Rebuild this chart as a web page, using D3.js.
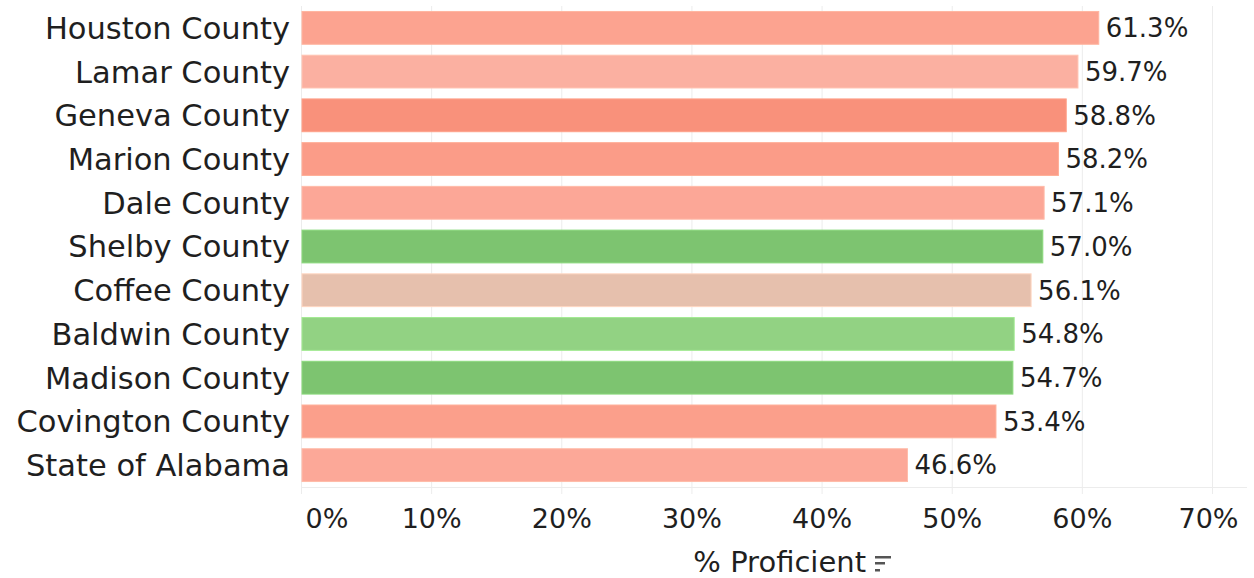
<!DOCTYPE html>
<html>
<head>
<meta charset="utf-8">
<script src="https://cdn.jsdelivr.net/npm/d3@7"></script>
<style>
  body { margin: 0; background: #fff; }
  text { font-family: "DejaVu Sans", sans-serif; fill: #1f1f1f; }
</style>
</head>
<body>
<div id="chart"></div>
<script>
// data
var counties = ["Houston County", "Lamar County", "Geneva County", "Marion County", "Dale County",
  "Shelby County", "Coffee County", "Baldwin County", "Madison County", "Covington County", "State of Alabama"];
var proficient = [61.3, 59.7, 58.8, 58.2, 57.1, 57.0, 56.1, 54.8, 54.7, 53.4, 46.6];
var barColors = ["#fca390", "#fbb0a1", "#f9917b", "#fb9c88", "#fca797", "#7dc470",
  "#e6c0ad", "#92d283", "#7dc470", "#fb9f8b", "#fca898"];
var xTicks = [0, 10, 20, 30, 40, 50, 60, 70];
var axisTitle = "% Proficient";

var width = 1254, height = 578;

var rows = counties.map(function(c, i){
  return {name: c, value: proficient[i], color: barColors[i]};
});

var svg = d3.select("#chart").append("svg")
  .attr("width", width).attr("height", height);

var x = d3.scaleLinear().domain([0, 70]).range([301, 1212]);
var y = d3.scaleBand().domain(counties).range([6, 487])
  .paddingInner(0.25).paddingOuter(0.125);

// grid
svg.append("g").selectAll("line")
  .data(xTicks).enter().append("line")
  .attr("x1", function(d){ return x(d) + 0.5; })
  .attr("x2", function(d){ return x(d) + 0.5; })
  .attr("y1", 6).attr("y2", 494)
  .attr("stroke", "#ececec").attr("stroke-width", 1);

svg.append("line")
  .attr("x1", x(0)).attr("x2", 1247)
  .attr("y1", 487.5).attr("y2", 487.5)
  .attr("stroke", "#ececec");

// bars
svg.append("g").selectAll("rect")
  .data(rows).enter().append("rect")
  .attr("x", x(0) + 1)
  .attr("y", function(d){ return y(d.name); })
  .attr("width", function(d){ return x(d.value) - x(0) - 1; })
  .attr("height", y.bandwidth())
  .attr("fill", function(d){ return d.color; })
  .attr("stroke", function(d){ return d3.color(d.color).brighter(0.3); })
  .attr("stroke-width", 1);

// value labels
svg.append("g").selectAll("text")
  .data(rows).enter().append("text")
  .attr("x", function(d){ return x(d.value) + 7; })
  .attr("y", function(d){ return y(d.name) + y.bandwidth() / 2; })
  .attr("dy", "0.36em")
  .style("font-size", "26px")
  .text(function(d){ return d.value.toFixed(1) + "%"; });

// category labels
svg.append("g").selectAll("text")
  .data(rows).enter().append("text")
  .attr("x", 290)
  .attr("y", function(d){ return y(d.name) + y.bandwidth() / 2; })
  .attr("dy", "0.36em")
  .attr("text-anchor", "end")
  .style("font-size", "30.5px")
  .text(function(d){ return d.name; });

// x axis
var xAxis = svg.append("g")
  .attr("transform", "translate(0,498)")
  .call(d3.axisBottom(x).tickValues(xTicks).tickSize(0).tickPadding(0)
    .tickFormat(function(d){ return d + "%"; }));
xAxis.select(".domain").remove();
xAxis.selectAll("text")
  .attr("y", 0).attr("dy", "0.36em")
  .attr("transform", "translate(0,20)")
  .style("font-size", "27px")
  .style("font-family", "DejaVu Sans, sans-serif")
  .attr("fill", "#1f1f1f");
xAxis.selectAll(".tick").filter(function(d){ return d === 0; }).select("text")
  .attr("text-anchor", "start").attr("x", 4);
xAxis.selectAll(".tick").filter(function(d){ return d === 70; }).select("text")
  .attr("x", -4);

// axis title + sort icon
svg.append("text")
  .attr("x", 866).attr("y", 572)
  .attr("text-anchor", "end")
  .style("font-size", "29px")
  .text(axisTitle);

var icon = svg.append("g").attr("fill", "#555");
[[16, 556], [10, 562], [5, 569]].forEach(function(l){
  icon.append("rect").attr("x", 875).attr("y", l[1]).attr("width", l[0]).attr("height", 2.5);
});
</script>
</body>
</html>
